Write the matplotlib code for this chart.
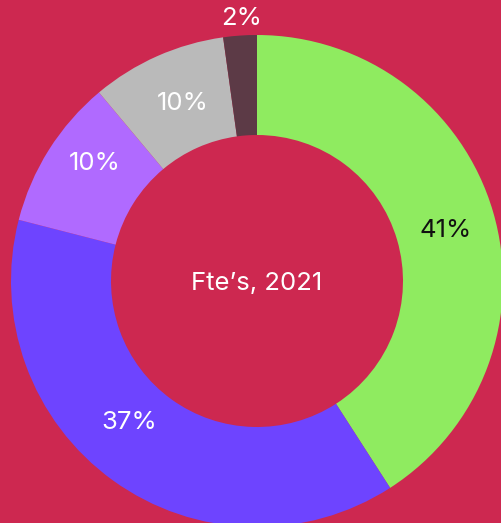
import numpy as np
import matplotlib
matplotlib.use("Agg")
import matplotlib.pyplot as plt

plt.rcParams['font.family'] = ['Inter', 'DejaVu Sans']

# Data (clockwise from 12 o'clock)
categories = ["Green", "Blue", "Light purple", "Grey", "Dark"]
values = [40.9, 38.1, 9.9, 8.9, 2.2]
label_texts = ["41%", "37%", "10%", "10%", "2%"]
title_text = "Fte\u2019s, 2021"

colors = ["#8FEB60", "#6E44FF", "#B06AFF", "#BABABA", "#5C3A46"]
label_colors = ["#111111", "white", "white", "white", "white"]
bg = "#CD2850"

# label placement tweaks (angle offset deg, radius in px)
label_angle_offsets = [-1.2, -6.3, -3.8, -1.4, -0.5]
label_radii = [195, 190, 201, 193, 264]

W, H = 501, 523
cx, cy = 257, 281
R_out, R_in = 246, 146

fig = plt.figure(figsize=(W / 100, H / 100), dpi=100, facecolor=bg)
ax = fig.add_axes([0, 0, 1, 1])
ax.set_facecolor(bg)

wedges, _ = ax.pie(values, colors=colors, startangle=90, counterclock=False,
                   radius=R_out, wedgeprops=dict(width=R_out - R_in, linewidth=0),
                   frame=True)
ax.set_xlim(-cx, W - cx)
ax.set_ylim(-(H - cy), cy)
ax.set_aspect('equal')
ax.axis('off')

for w, txt, col, off, r in zip(wedges, label_texts, label_colors, label_angle_offsets, label_radii):
    mid = np.deg2rad((w.theta1 + w.theta2) / 2 + off)
    ax.text(r * np.cos(mid), r * np.sin(mid) - 1, txt, ha='center', va='center',
            color=col, fontsize=18.5)

ax.text(0, -2, title_text, ha='center', va='center', color='white', fontsize=18.5)

fig.savefig("out.png", dpi=100, facecolor=bg)
